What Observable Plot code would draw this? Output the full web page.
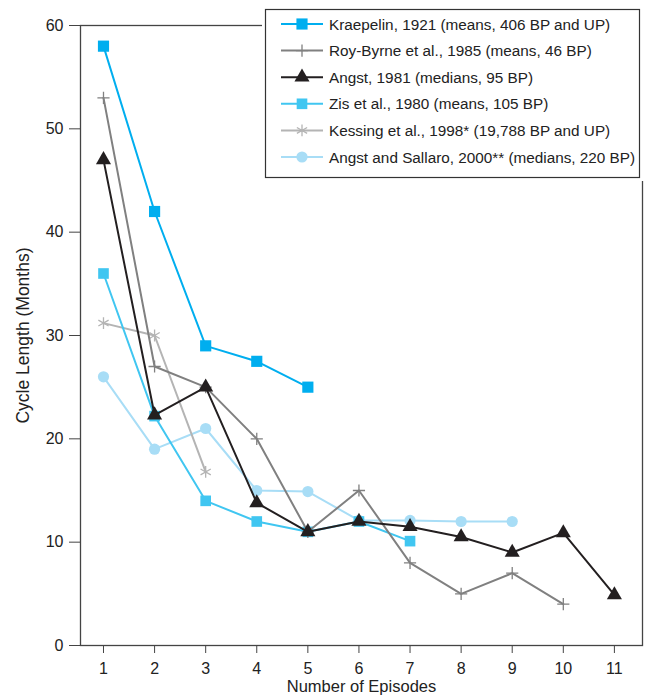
<!DOCTYPE html>
<html>
<head>
<meta charset="utf-8">
<script src="https://cdn.jsdelivr.net/npm/d3@7"></script>
<script src="https://cdn.jsdelivr.net/npm/@observablehq/plot@0.6"></script>
<style>
  html, body { margin: 0; padding: 0; background: #fff; }
  #chart { position: relative; width: 661px; height: 697px; }
  svg { font-family: "Liberation Sans", Arial, sans-serif; }
</style>
</head>
<body>
<div id="chart"></div>
<script>
// ---- Data ----
const seriesNames = [
  "Kraepelin, 1921 (means, 406 BP and UP)",
  "Roy-Byrne et al., 1985 (means, 46 BP)",
  "Angst, 1981 (medians, 95 BP)",
  "Zis et al., 1980 (means, 105 BP)",
  "Kessing et al., 1998* (19,788 BP and UP)",
  "Angst and Sallaro, 2000** (medians, 220 BP)"
];
const kraepelin = [58, 42, 29, 27.5, 25];
const royByrne = [53, 27, 25, 20, 11, 15, 8, 5, 7, 4];
const angst1981 = [47, 22.3, 25, 13.8, 11, 12, 11.5, 10.5, 9, 10.9, 4.9];
const zis = [36, 22.2, 14, 12, 11, 12, 10.1];
const kessing = [31.2, 30, 16.8];
const angstSallaro = [26, 19, 21, 15, 14.9, 12.1, 12.1, 12, 12];
const xTicks = [1, 2, 3, 4, 5, 6, 7, 8, 9, 10, 11];
const yTicks = [0, 10, 20, 30, 40, 50, 60];

// ---- Styles ----
const styles = [
  {values: kraepelin,    color: "#00AEEF", symbol: "square",   r: 6.3, filled: true},
  {values: royByrne,     color: "#808080", symbol: "plus",     r: 4.0, filled: false},
  {values: angst1981,    color: "#231F20", symbol: "triangle", r: 5.6, filled: true},
  {values: zis,          color: "#40C6F1", symbol: "square",   r: 6.0, filled: true},
  {values: kessing,      color: "#B4B4B4", symbol: "asterisk", r: 5.6, filled: false},
  {values: angstSallaro, color: "#A8DDF6", symbol: "circle",   r: 5.6, filled: true}
];

const tables = styles.map((s, i) => s.values.map((v, j) => ({episode: j + 1, months: v, series: seriesNames[i]})));

const drawOrder = [5, 4, 3, 1, 0, 2];
const marks = [];
for (const i of drawOrder) {
  const s = styles[i];
  marks.push(Plot.line(tables[i], {x: "episode", y: "months", stroke: s.color, strokeWidth: 2}));
  marks.push(Plot.dot(tables[i], {
    x: "episode", y: "months", symbol: () => s.symbol, r: s.r,
    fill: s.filled ? s.color : "none",
    stroke: s.filled ? "none" : s.color,
    strokeWidth: s.filled ? 0 : 1.3
  }));
}

const plot = Plot.plot({
  width: 661,
  height: 697,
  marginLeft: 80,
  marginRight: 19,
  marginTop: 25,
  marginBottom: 52,
  style: {fontFamily: "Liberation Sans, Arial, sans-serif", fontSize: "16px", color: "#222", background: "#fff"},
  x: {domain: [0.55, 11.55]},
  y: {domain: [0, 60]},
  symbol: {type: "identity"},
  marks: [
    Plot.axisY({ticks: yTicks, tickSize: 11, tickPadding: 6, stroke: "#444", label: null, fontSize: 16}),
    Plot.axisY({ticks: [], tickSize: 0, label: "Cycle Length (Months)", labelAnchor: "center", labelArrow: "none", labelOffset: 64, fontSize: 17.5}),
    Plot.axisX({ticks: xTicks, tickSize: 8, tickPadding: 9, stroke: "#444", label: null, fontSize: 16}),
    Plot.axisX({ticks: [], tickSize: 0, label: "Number of Episodes", labelAnchor: "center", labelArrow: "none", labelOffset: 46, fontSize: 16.5}),
    Plot.frame({stroke: "#444", strokeWidth: 1.3}),
    ...marks
  ]
});

document.getElementById("chart").appendChild(plot);

// ---- Legend (drawn into the same SVG) ----
const svg = d3.select(plot);
const lg = svg.append("g").attr("text-anchor", "start");
lg.append("rect").attr("x", 262).attr("y", 4).attr("width", 384).attr("height", 177).attr("fill", "#fff");
lg.append("rect").attr("x", 265.5).attr("y", 9.5).attr("width", 374).attr("height", 168)
  .attr("fill", "#fff").attr("stroke", "#333").attr("stroke-width", 1.2);
const symMap = {square: d3.symbolSquare, plus: d3.symbolPlus, triangle: d3.symbolTriangle, asterisk: d3.symbolAsterisk, circle: d3.symbolCircle};
styles.forEach((s, i) => {
  const y = 24 + i * 26.6;
  const g = lg.append("g");
  g.append("line").attr("x1", 281).attr("x2", 323).attr("y1", y).attr("y2", y)
    .attr("stroke", s.color).attr("stroke-width", 2);
  g.append("path")
    .attr("transform", `translate(302,${y})`)
    .attr("d", d3.symbol(symMap[s.symbol], Math.PI * s.r * s.r)())
    .attr("fill", s.filled ? s.color : "#fff")
    .attr("stroke", s.filled ? "none" : s.color)
    .attr("stroke-width", s.filled ? 0 : 1.3);
  g.append("text").attr("x", 329).attr("y", y).attr("dy", "0.36em")
    .attr("text-anchor", "start")
    .attr("font-size", 15.3).attr("fill", "#222").text(seriesNames[i]);
});
</script>
</body>
</html>
